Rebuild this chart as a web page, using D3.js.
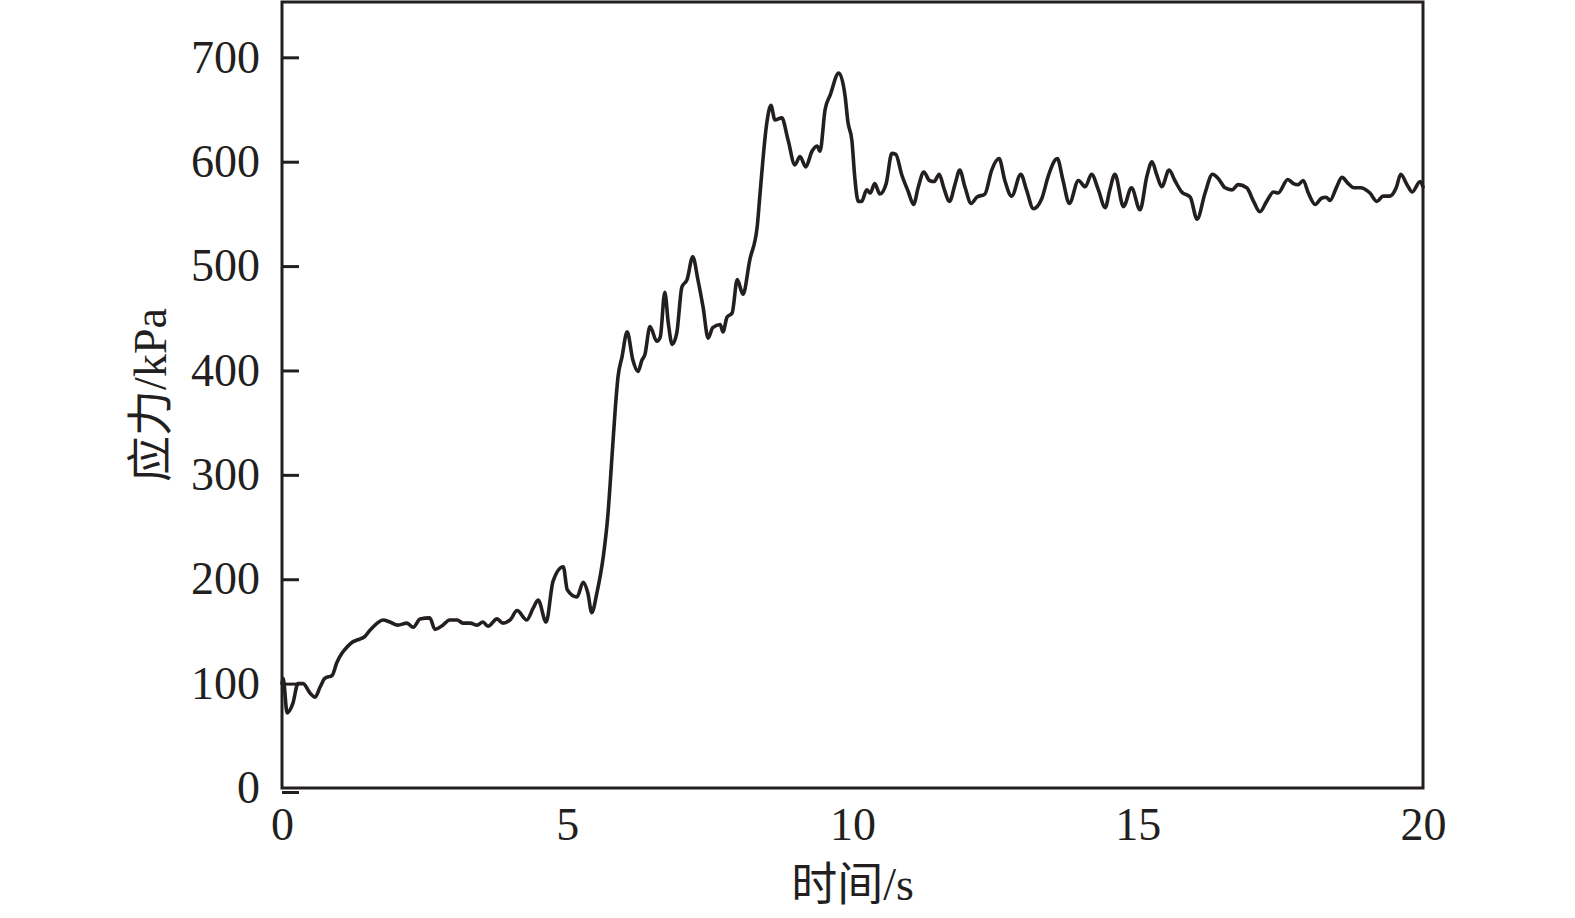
<!DOCTYPE html>
<html>
<head>
<meta charset="utf-8">
<script src="https://cdn.jsdelivr.net/npm/d3@7"></script>
<style>
  html, body { margin: 0; padding: 0; background: #ffffff; }
  svg { display: block; }
  .axis text { font-family: "Liberation Serif", "Times New Roman", serif; font-size: 46px; fill: #231f20; }
  .label { font-family: "Liberation Serif", "Noto Sans CJK SC", serif; font-size: 46px; fill: #231f20; }
</style>
</head>
<body>
<svg id="chart" width="1575" height="918"></svg>
<script>
// ---- data ----
const timeS = [
  0.00, 0.02, 0.09, 0.19, 0.28, 0.37, 0.49, 0.58, 0.67, 0.75, 0.88, 0.96, 1.05, 1.14, 1.24, 1.33, 1.45, 1.54,
  1.67, 1.77, 1.89, 2.03, 2.19, 2.30, 2.42, 2.59, 2.68, 2.82, 2.94, 3.07, 3.17, 3.30, 3.42, 3.52, 3.61, 3.77,
  3.87, 4.00, 4.12, 4.29, 4.40, 4.49, 4.63, 4.75, 4.93, 5.00, 5.17, 5.28, 5.36, 5.43, 5.52, 5.63, 5.71, 5.78,
  5.84, 5.89, 5.96, 6.05, 6.15, 6.24, 6.31, 6.36, 6.45, 6.57, 6.63, 6.71, 6.77, 6.84, 6.92, 7.01, 7.10, 7.20,
  7.29, 7.38, 7.47, 7.55, 7.68, 7.73, 7.80, 7.89, 7.98, 8.08, 8.20, 8.33, 8.38, 8.50, 8.57, 8.64, 8.76, 8.87,
  8.99, 9.08, 9.18, 9.29, 9.38, 9.43, 9.52, 9.61, 9.76, 9.87, 9.92, 9.99, 10.04, 10.10, 10.16, 10.25, 10.31,
  10.39, 10.48, 10.59, 10.69, 10.76, 10.86, 10.98, 11.07, 11.15, 11.25, 11.35, 11.43, 11.52, 11.60, 11.70,
  11.80, 11.88, 11.97, 12.08, 12.18, 12.32, 12.44, 12.57, 12.67, 12.79, 12.95, 13.05, 13.17, 13.32, 13.43,
  13.59, 13.69, 13.80, 13.96, 14.08, 14.19, 14.31, 14.43, 14.51, 14.60, 14.75, 14.89, 15.04, 15.16, 15.25,
  15.33, 15.42, 15.55, 15.65, 15.77, 15.92, 16.04, 16.18, 16.31, 16.41, 16.53, 16.65, 16.76, 16.91, 17.03,
  17.14, 17.26, 17.38, 17.46, 17.63, 17.73, 17.81, 17.90, 17.99, 18.11, 18.22, 18.30, 18.37, 18.48, 18.58,
  18.69, 18.79, 18.90, 19.07, 19.19, 19.30, 19.42, 19.53, 19.61, 19.72, 19.81, 19.95, 20.00
];
const stressKPa = [
  100, 105, 72, 81, 100, 100, 91, 87, 97, 105, 108, 120, 129, 135, 140, 142, 145, 151,
  158, 161, 159, 156, 158, 154, 162, 163, 152, 156, 161, 161, 158, 158, 156, 159, 155, 162,
  158, 161, 170, 161, 172, 180, 159, 198, 212, 190, 183, 197, 187, 168, 187, 221, 260, 314,
  362, 394, 413, 437, 410, 399, 410, 415, 442, 428, 432, 475, 446, 425, 436, 480, 487, 509,
  487, 461, 431, 441, 444, 437, 451, 455, 487, 473, 506, 538, 570, 638, 654, 640, 642, 621,
  597, 605, 595, 610, 615, 610, 650, 664, 685, 663, 638, 620, 585, 562, 562, 573, 570,
  579, 569, 579, 608, 607, 588, 571, 559, 575, 590, 582, 581, 588, 575, 562,
  579, 592, 576, 560, 566, 569, 592, 603, 582, 567, 588, 573, 555, 565, 586,
  603, 582, 560, 582, 576, 588, 573, 556, 573, 588, 557, 575, 554, 586, 600,
  588, 576, 592, 582, 571, 566, 545, 570, 588, 584, 575, 573, 578, 575, 562,
  552, 562, 571, 570, 583, 579, 578, 582, 570, 559, 565, 566, 563, 575, 585,
  579, 575, 575, 570, 562, 567, 567, 575, 588, 578, 571, 581, 576
];
const xTicks = [0, 5, 10, 15, 20];
const yTicks = [0, 100, 200, 300, 400, 500, 600, 700];
const xTitle = "时间/s";
const yTitle = "应力/kPa";

// ---- layout ----
const plot = { left: 282, right: 1423, top: 2, bottom: 788 };
const ink = "#231f20";

const svg = d3.select("#chart");

const x = d3.scaleLinear().domain([0, 20]).range([plot.left, plot.right]);
const y = d3.scaleLinear().domain([0, 753]).range([plot.bottom, plot.top]);

// y axis: ticks pointing inward
const yAxis = d3.axisLeft(y).tickValues(yTicks).tickFormat(d3.format("d"))
  .tickSizeInner(-17).tickSizeOuter(0).tickPadding(22);
const gy = svg.append("g").attr("class", "axis")
  .attr("transform", `translate(${plot.left},0)`).call(yAxis);
gy.select(".domain").remove();
gy.selectAll(".tick line").attr("stroke", ink).attr("stroke-width", 3);
// the zero tick sits just under the frame in the reference
gy.selectAll(".tick").filter(d => d === 0).select("line")
  .attr("transform", "translate(0,4)");

// x axis: labels only
const xAxis = d3.axisBottom(x).tickValues(xTicks).tickFormat(d3.format("d"))
  .tickSize(0).tickPadding(19);
const gx = svg.append("g").attr("class", "axis")
  .attr("transform", `translate(0,${plot.bottom})`).call(xAxis);
gx.select(".domain").remove();
gx.selectAll(".tick line").remove();

// line
const pts = timeS.map((t, i) => [t, stressKPa[i]]);
const line = d3.line().x(d => x(d[0])).y(d => y(d[1])).curve(d3.curveMonotoneX);
svg.append("path").datum(pts)
  .attr("d", line)
  .attr("fill", "none")
  .attr("stroke", ink)
  .attr("stroke-width", 3.6)
  .attr("stroke-linejoin", "round")
  .attr("stroke-linecap", "round");

// frame
svg.append("rect")
  .attr("x", plot.left).attr("y", plot.top)
  .attr("width", plot.right - plot.left).attr("height", plot.bottom - plot.top)
  .attr("fill", "none").attr("stroke", ink).attr("stroke-width", 3);

// titles
svg.append("text").attr("class", "label")
  .attr("x", (plot.left + plot.right) / 2).attr("y", 900)
  .attr("text-anchor", "middle").text(xTitle);

svg.append("text").attr("class", "label")
  .attr("transform", `translate(150,${(plot.top + plot.bottom) / 2}) rotate(-90)`)
  .attr("text-anchor", "middle").attr("dominant-baseline", "central")
  .text(yTitle);
</script>
</body>
</html>
